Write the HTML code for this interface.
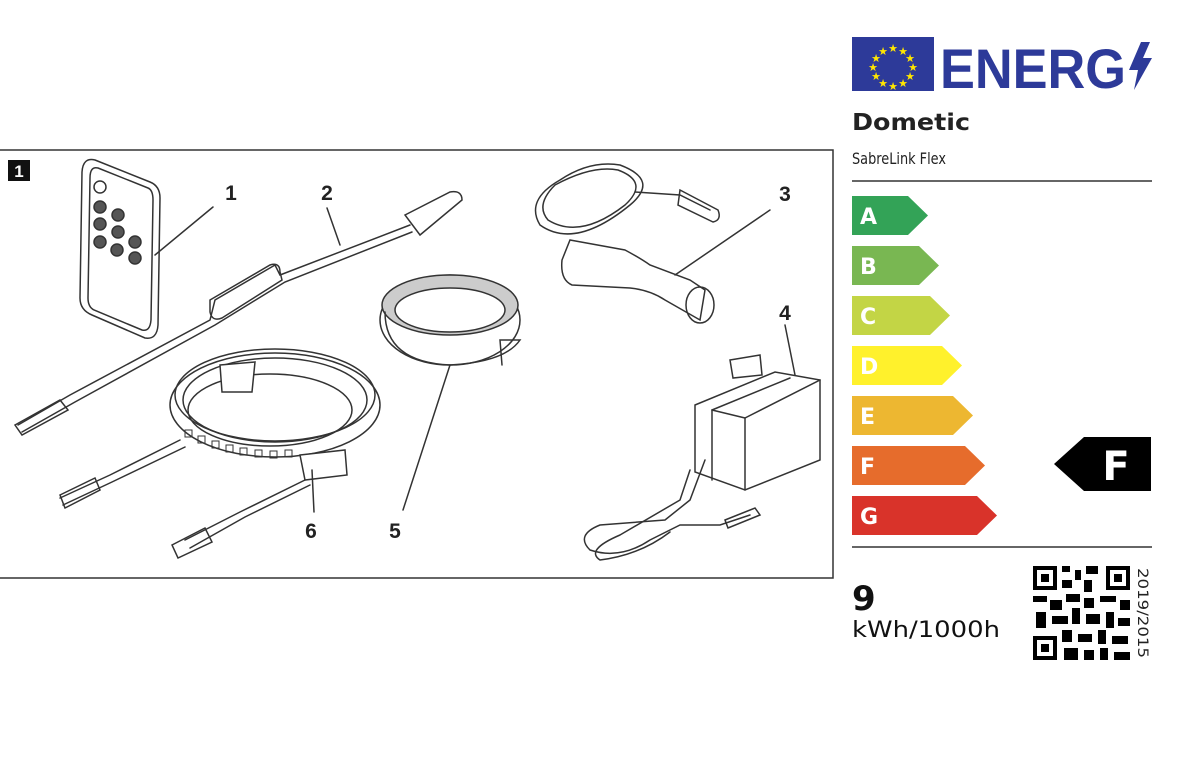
<!DOCTYPE html>
<html><head><meta charset="utf-8"><style>
html,body{margin:0;padding:0;background:#fff;}
body{width:1200px;height:758px;overflow:hidden;position:relative;font-family:"DejaVu Sans","Liberation Sans",sans-serif;}
</style></head><body>
<svg width="1200" height="758" viewBox="0 0 1200 758" xmlns="http://www.w3.org/2000/svg" style="position:absolute;left:0;top:0">
<rect x="-2" y="150" width="835" height="428" fill="#fff" stroke="#333" stroke-width="1.5"/>
<rect x="8" y="160" width="22" height="21" fill="#111"/>
<text x="19" y="177" font-family="Liberation Sans" font-weight="bold" font-size="17" fill="#fff" text-anchor="middle">1</text>
<g fill="none" stroke="#333" stroke-width="1.5" stroke-linecap="round">
<path d="M95 160 L150 182 Q160 186 160 198 L158 325 Q157 340 145 338 L92 315 Q80 310 80 298 L82 172 Q83 157 95 160 Z"/>
<path d="M98 168 L148 188 Q153 190 153 200 L151 320 Q150 332 142 330 L94 310 Q88 307 88 298 L90 178 Q90 166 98 168 Z"/>
<circle cx="100" cy="187" r="6"/>
<g fill="#555"><circle cx="100" cy="207" r="6"/><circle cx="118" cy="215" r="6"/><circle cx="100" cy="224" r="6"/><circle cx="118" cy="232" r="6"/><circle cx="100" cy="242" r="6"/><circle cx="135" cy="242" r="6"/><circle cx="117" cy="250" r="6"/><circle cx="135" cy="258" r="6"/></g>
<line x1="155" y1="255" x2="213" y2="207"/>
<path d="M18 425 L70 395 L210 320 L215 300 L275 265 L280 275 L410 225"/>
<path d="M22 432 L75 402 L215 325 L285 282 L412 232"/>
<path d="M210 300 L270 265 Q280 262 280 272 L282 280 L222 318 Q212 322 210 312 Z"/>
<path d="M405 215 L450 192 Q462 190 462 200 L420 235 Z"/>
<line x1="340" y1="245" x2="327" y2="208"/>
<path d="M15 425 L60 400 L68 410 L22 435 Z"/>
<ellipse cx="275" cy="405" rx="105" ry="52"/>
<ellipse cx="275" cy="400" rx="92" ry="42"/>
<ellipse cx="275" cy="395" rx="100" ry="46"/>
<ellipse cx="270" cy="410" rx="82" ry="36"/>
<path d="M220 365 L255 362 L252 392 L222 392 Z" fill="#fff"/>
<path d="M300 455 L345 450 L347 475 L305 480 Z" fill="#fff"/>
<g stroke-width="1">
<rect x="185" y="430" width="7" height="7"/><rect x="198" y="436" width="7" height="7"/><rect x="212" y="441" width="7" height="7"/><rect x="226" y="445" width="7" height="7"/><rect x="240" y="448" width="7" height="7"/><rect x="255" y="450" width="7" height="7"/><rect x="270" y="451" width="7" height="7"/><rect x="285" y="450" width="7" height="7"/></g>
<path d="M180 440 L110 475 L60 498"/><path d="M185 447 L112 482 L63 505"/>
<path d="M60 495 L95 478 L100 490 L65 508 Z"/>
<path d="M305 480 L240 512 L185 540"/><path d="M310 485 L245 517 L190 548"/>
<path d="M172 545 L205 528 L212 542 L178 558 Z"/>
<line x1="312" y1="470" x2="314" y2="512"/>
<ellipse cx="450" cy="320" rx="70" ry="45"/>
<ellipse cx="450" cy="305" rx="68" ry="30" fill="#ccc"/>
<ellipse cx="450" cy="310" rx="55" ry="22" fill="#fff"/>
<path d="M385 312 Q385 362 450 365 Q505 362 520 340 L500 340 L502 365"/>
<line x1="450" y1="365" x2="403" y2="510"/>
<path d="M560 180 Q525 200 540 225 Q575 250 630 205 Q660 180 620 165 Q590 160 560 180 Z"/>
<path d="M555 185 Q535 205 548 220 Q580 240 625 205 Q650 182 618 170 Q592 165 555 185 Z"/>
<path d="M635 192 L680 195 L710 210"/>
<path d="M680 190 L718 210 Q722 220 713 222 L678 205 Z"/>
<path d="M570 240 L625 250 Q640 258 650 265 L690 280 L705 290 L700 320 L665 300 Q650 290 630 288 L572 285 Q560 280 562 260 Z"/>
<ellipse cx="700" cy="305" rx="14" ry="18"/>
<line x1="675" y1="275" x2="770" y2="210"/>
<path d="M695 405 L775 372 L820 380 L820 460 L745 490 L695 472 Z"/>
<path d="M712 410 L790 378"/><path d="M712 410 L712 480"/><path d="M712 410 L745 418 L745 490"/><path d="M745 418 L820 380"/>
<path d="M730 360 L760 355 L762 375 L733 378 Z"/>
<line x1="795" y1="375" x2="785" y2="325"/>
<path d="M705 460 L690 500 L665 520 L600 525 Q575 535 590 550 Q620 560 650 540 L680 525 L720 525 L750 515"/>
<path d="M690 470 L680 500 L620 535 Q585 550 600 560 Q640 555 670 532"/>
<path d="M725 520 L755 508 L760 515 L728 528 Z"/>
</g>
<g font-family="Liberation Sans" font-weight="bold" font-size="21" fill="#222" text-anchor="middle">
<text x="231" y="200">1</text><text x="327" y="200">2</text><text x="785" y="201">3</text><text x="785" y="320">4</text><text x="395" y="538">5</text><text x="311" y="538">6</text>
</g>
<rect x="852" y="37" width="82" height="54" fill="#2d3a99"/>
<g fill="#ffe600" font-size="11" text-anchor="middle" font-family="DejaVu Sans">
<text x="893" y="52">★</text><text x="903" y="55">★</text><text x="910" y="62">★</text><text x="913" y="71">★</text><text x="910" y="80">★</text><text x="903" y="87">★</text><text x="893" y="90">★</text><text x="883" y="87">★</text><text x="876" y="80">★</text><text x="873" y="71">★</text><text x="876" y="62">★</text><text x="883" y="55">★</text>
</g>
<text x="940" y="88" font-family="Liberation Sans" font-weight="bold" font-size="56" fill="#2d3a99" textLength="186" lengthAdjust="spacingAndGlyphs">ENERG</text>
<path d="M1141 42 L1129 70 L1138 70 L1134 90 L1152 58 L1143 58 L1150 42 Z" fill="#2d3a99"/>
<text x="852" y="130" font-family="DejaVu Sans" font-weight="bold" font-size="23" fill="#222" textLength="118" lengthAdjust="spacingAndGlyphs">Dometic</text>
<text x="852" y="164" font-family="DejaVu Sans" font-size="16" fill="#222" textLength="94" lengthAdjust="spacingAndGlyphs">SabreLink Flex</text>
<line x1="852" y1="181" x2="1152" y2="181" stroke="#333" stroke-width="1.5"/>
<line x1="852" y1="547" x2="1152" y2="547" stroke="#333" stroke-width="1.5"/>
<g font-family="DejaVu Sans" font-weight="bold" font-size="22" fill="#fff">
<path d="M852 196 H908 L928 215.5 L908 235 H852 Z" fill="#33a357"/><text x="860" y="224">A</text>
<path d="M852 246 H919 L939 265.5 L919 285 H852 Z" fill="#79b752"/><text x="860" y="274">B</text>
<path d="M852 296 H930 L950 315.5 L930 335 H852 Z" fill="#c3d545"/><text x="860" y="324">C</text>
<path d="M852 346 H942 L962 365.5 L942 385 H852 Z" fill="#fff12c"/><text x="860" y="374">D</text>
<path d="M852 396 H953 L973 415.5 L953 435 H852 Z" fill="#edb731"/><text x="860" y="424">E</text>
<path d="M852 446 H965 L985 465.5 L965 485 H852 Z" fill="#e66c2c"/><text x="860" y="474">F</text>
<path d="M852 496 H977 L997 515.5 L977 535 H852 Z" fill="#d9332a"/><text x="860" y="524">G</text>
</g>
<path d="M1084 437 H1151 V491 H1084 L1054 464 Z" fill="#000"/>
<text x="1116" y="480" font-family="DejaVu Sans" font-weight="bold" font-size="40" fill="#fff" text-anchor="middle">F</text>
<text x="852" y="610" font-family="DejaVu Sans" font-weight="bold" font-size="34" fill="#111">9</text>
<text x="852" y="637" font-family="DejaVu Sans" font-size="22" fill="#111" textLength="148" lengthAdjust="spacingAndGlyphs">kWh/1000h</text>
<g fill="#000">
<rect x="1033" y="566" width="97" height="94" fill="#fff"/>
<rect x="1033" y="566" width="24" height="24"/><rect x="1037" y="570" width="16" height="16" fill="#fff"/><rect x="1041" y="574" width="8" height="8"/>
<rect x="1106" y="566" width="24" height="24"/><rect x="1110" y="570" width="16" height="16" fill="#fff"/><rect x="1114" y="574" width="8" height="8"/>
<rect x="1033" y="636" width="24" height="24"/><rect x="1037" y="640" width="16" height="16" fill="#fff"/><rect x="1041" y="644" width="8" height="8"/>
<rect x="1062" y="566" width="8" height="6"/><rect x="1075" y="570" width="6" height="10"/><rect x="1086" y="566" width="12" height="8"/><rect x="1062" y="580" width="10" height="8"/><rect x="1084" y="580" width="8" height="12"/>
<rect x="1033" y="596" width="14" height="6"/><rect x="1050" y="600" width="12" height="10"/><rect x="1066" y="594" width="14" height="8"/><rect x="1084" y="598" width="10" height="10"/><rect x="1100" y="596" width="16" height="6"/><rect x="1120" y="600" width="10" height="10"/>
<rect x="1036" y="612" width="10" height="16"/><rect x="1052" y="616" width="16" height="8"/><rect x="1072" y="608" width="8" height="16"/><rect x="1086" y="614" width="14" height="10"/><rect x="1106" y="612" width="8" height="16"/><rect x="1118" y="618" width="12" height="8"/>
<rect x="1062" y="630" width="10" height="12"/><rect x="1078" y="634" width="14" height="8"/><rect x="1098" y="630" width="8" height="14"/><rect x="1112" y="636" width="16" height="8"/>
<rect x="1064" y="648" width="14" height="12"/><rect x="1084" y="650" width="10" height="10"/><rect x="1100" y="648" width="8" height="12"/><rect x="1114" y="652" width="16" height="8"/>
</g>
<text transform="translate(1138,568) rotate(90)" font-family="DejaVu Sans" font-size="14" fill="#222" textLength="90" lengthAdjust="spacingAndGlyphs">2019/2015</text>
</svg>
</body></html>
